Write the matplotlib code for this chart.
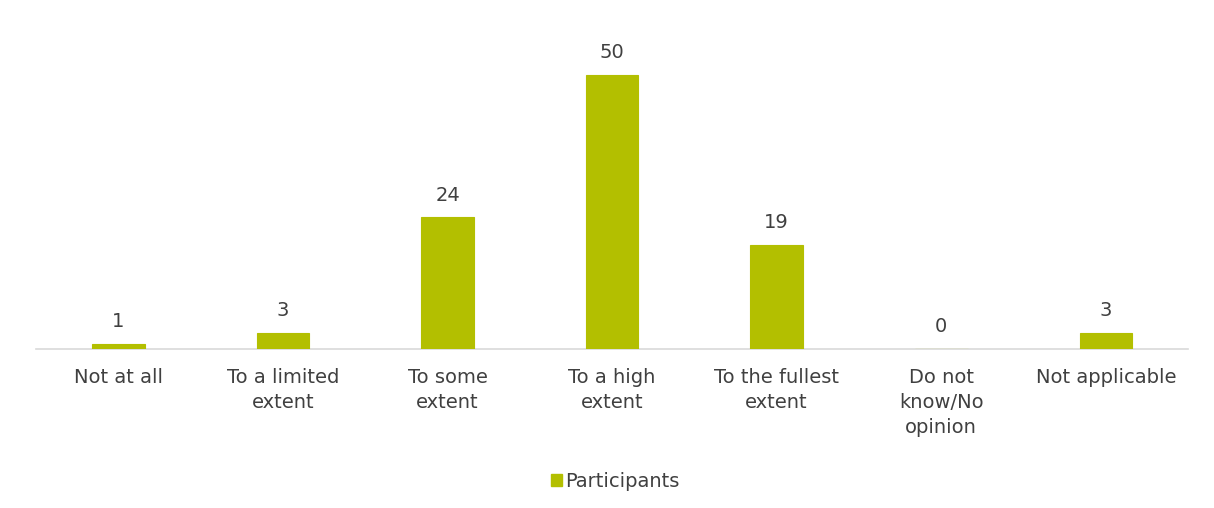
import matplotlib
matplotlib.use("Agg")
import matplotlib.pyplot as plt
from matplotlib.patches import Patch
from matplotlib import font_manager

plt.rcParams["font.family"] = "sans-serif"
plt.rcParams["font.sans-serif"] = ["DejaVu Sans"]
FONT = font_manager.FontProperties(family="DejaVu Sans", size=14)
LEG_FONT = font_manager.FontProperties(family="DejaVu Sans", size=14)

categories = ["Not at all", "To a limited\nextent", "To some\nextent", "To a high\nextent",
              "To the fullest\nextent", "Do not\nknow/No\nopinion", "Not applicable"]
participants = [1, 3, 24, 50, 19, 0, 3]

bar_color = "#b3bf00"
text_color = "#404040"

fig = plt.figure(figsize=(12.14, 5.08), dpi=100)
ax = fig.add_axes([0.0297, 0.313, 0.949, 0.648])

x = list(range(len(categories)))
ax.bar(x, participants, width=0.32, color=bar_color, edgecolor=bar_color,
       linewidth=0.8, zorder=3)

for xi, v in zip(x, participants):
    ax.annotate(str(v), (xi, v), xytext=(0, 9), textcoords="offset points",
                ha="center", va="bottom", fontproperties=FONT, color=text_color)

ax.set_xlim(-0.5, len(categories) - 0.5)
ax.set_ylim(0, 60)
ax.set_xticks(x)
ax.set_xticklabels(categories, fontproperties=FONT, color=text_color, linespacing=1.4)
ax.tick_params(axis="x", length=0, pad=14)
ax.set_yticks([])
for side in ("top", "left", "right"):
    ax.spines[side].set_visible(False)
ax.spines["bottom"].set_color("#d9d9d9")
ax.spines["bottom"].set_linewidth(1.2)

fig.legend(handles=[Patch(color=bar_color, label="Participants")], loc="center",
           bbox_to_anchor=(0.507, 0.052), frameon=False, prop=LEG_FONT,
           handlelength=0.55, handleheight=0.55, handletextpad=0.2, labelcolor=text_color)

fig.savefig("out.png", dpi=100)
